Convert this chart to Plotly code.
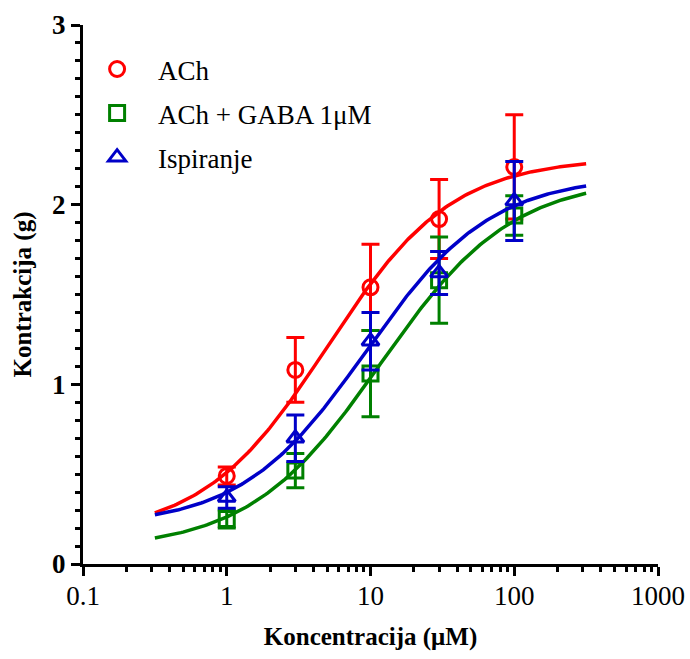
import numpy as np
import plotly.graph_objects as go

# Concentrations (µM)
conc = [1, 3, 10, 30, 100]

# Mean contraction (g) and error for each condition
ach_mean = [0.49, 1.08, 1.54, 1.92, 2.21]
ach_err = [0.05, 0.18, 0.24, 0.22, 0.29]

gaba_mean = [0.25, 0.52, 1.06, 1.58, 1.94]
gaba_err = [0.05, 0.095, 0.24, 0.24, 0.11]

wash_mean = [0.37, 0.70, 1.24, 1.62, 2.02]
wash_err = [0.06, 0.13, 0.16, 0.12, 0.22]

# Four-parameter logistic fit parameters: bottom, top, logEC50, Hill slope
ach_fit = (0.16, 2.26, 0.70, 1.0)
gaba_fit = (0.08, 2.15, 1.07, 0.95)
wash_fit = (0.21, 2.16, 0.97, 1.0)

names = ["ACh", "ACh + GABA 1μM", "Ispiranje"]
colors = ["#FF0000", "#008000", "#0000C8"]
symbols = ["circle-open", "square-open", "triangle-up-open"]

FONT = "Liberation Serif"


def logistic(logx, bottom, top, logec50, hill):
    return bottom + (top - bottom) / (1 + 10 ** ((logec50 - logx) * hill))


logx_curve = np.linspace(-0.5, 2.5, 200)
x_curve = 10 ** logx_curve

fig = go.Figure()
series = [(ach_mean, ach_err, ach_fit), (gaba_mean, gaba_err, gaba_fit), (wash_mean, wash_err, wash_fit)]
for i, ((mean, err, fit), name, col, sym) in enumerate(zip(series, names, colors, symbols)):
    fig.add_trace(go.Scatter(
        x=x_curve, y=logistic(logx_curve, *fit), mode="lines",
        line=dict(color=col, width=3.5), showlegend=False, hoverinfo="skip"))
    fig.add_trace(go.Scatter(
        x=conc, y=mean, mode="markers", name=name, legendgroup=f"g{i}",
        marker=dict(symbol=sym, size=15, color=col, line=dict(width=3, color=col)),
        error_y=dict(type="data", array=err, visible=True, color=col, thickness=3, width=9)))

minor_x = [m * 10 ** e for e in range(-1, 3) for m in range(2, 10)]

fig.update_layout(
    width=690, height=659,
    margin=dict(l=83, r=32, t=25, b=95),
    paper_bgcolor="white", plot_bgcolor="white",
    font=dict(family=FONT, color="black"),
    legend=dict(x=-0.012, y=0.963, xanchor="left", yanchor="top",
                font=dict(family=FONT, size=27), itemwidth=72,
                bgcolor="rgba(0,0,0,0)", tracegroupgap=6),
    xaxis=dict(
        type="log", range=[-1, 3], automargin=False,
        tickmode="array", tickvals=[0.1, 1, 10, 100, 1000],
        ticktext=["0.1", "1", "10", "100", "1000"],
        ticks="outside", ticklen=9, tickwidth=3, tickcolor="black",
        ticklabelstandoff=-3,
        minor=dict(tickvals=minor_x, ticks="outside", ticklen=5, tickwidth=3, tickcolor="black"),
        showline=True, linewidth=3, linecolor="black",
        showgrid=False, zeroline=False,
        tickfont=dict(family=FONT, size=27),
        title=dict(text="<b>Koncentracija (μM)</b>", font=dict(family=FONT, size=25), standoff=18),
    ),
    yaxis=dict(
        range=[0, 3], automargin=False,
        tickvals=[0, 1, 2, 3], ticktext=["<b>0</b>", "<b>1</b>", "<b>2</b>", "<b>3</b>"],
        ticks="outside", ticklen=9, tickwidth=3, tickcolor="black",
        minor=dict(dtick=0.1, ticks="outside", ticklen=5, tickwidth=3, tickcolor="black"),
        showline=True, linewidth=3, linecolor="black",
        showgrid=False, zeroline=False,
        tickfont=dict(family=FONT, size=27),
        title=dict(text="<b>Kontrakcija (g)</b>", font=dict(family=FONT, size=25), standoff=14),
    ),
)

fig.write_html("out.html")
